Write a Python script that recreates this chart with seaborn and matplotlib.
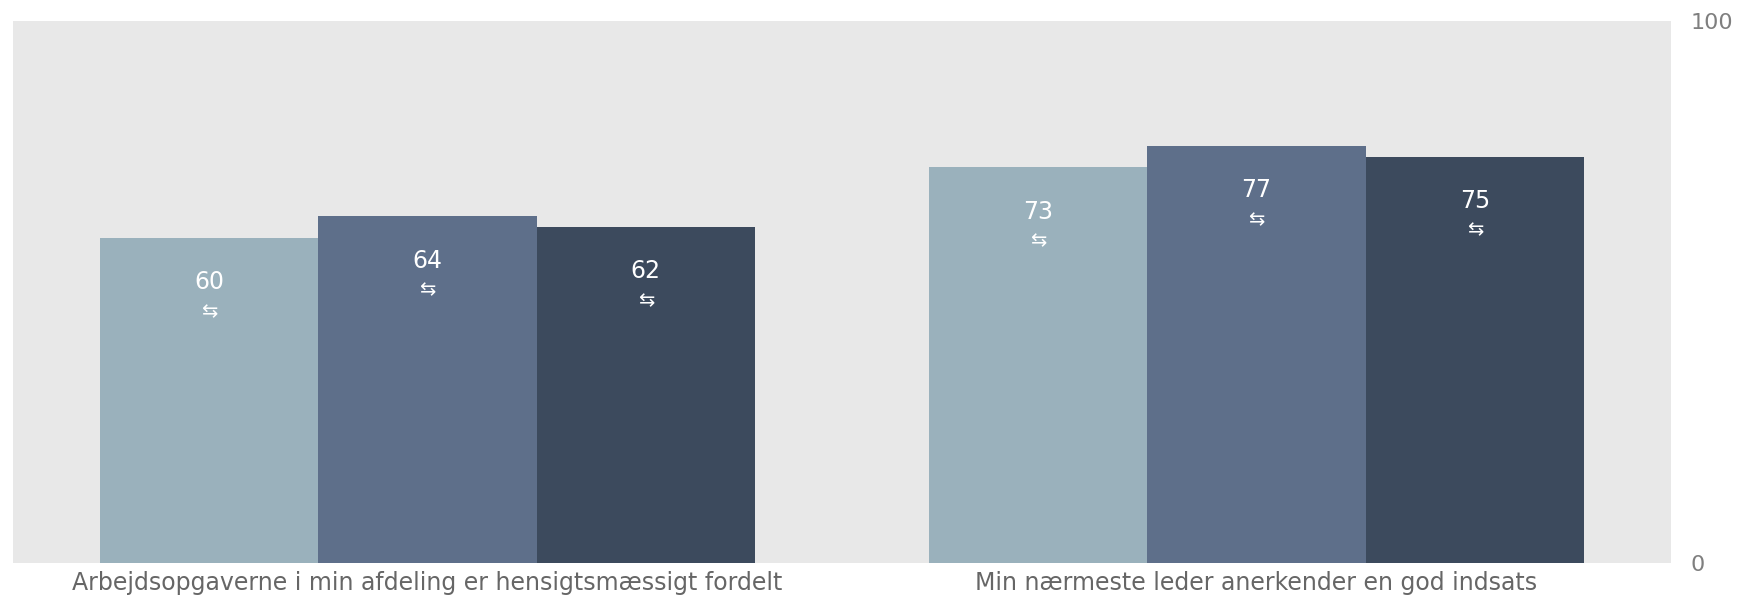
import pandas as pd
import numpy as np
import matplotlib
matplotlib.use('Agg')
import matplotlib.pyplot as plt
import seaborn as sns

# data
categories = ['Arbejdsopgaverne i min afdeling er hensigtsmæssigt fordelt',
              'Min nærmeste leder anerkender en god indsats']
series = ['A', 'B', 'C']
values_a = [60, 73]
values_b = [64, 77]
values_c = [62, 75]
colors = ['#9AB1BC', '#5E6F8A', '#3C4A5D']

sns.set_theme(style='white')
plt.rcParams['font.family'] = ['DejaVu Sans']

rows = []
for s, vals in zip(series, [values_a, values_b, values_c]):
    for c, v in zip(categories, vals):
        rows.append({'kategori': c, 'serie': s, 'score': v})
df = pd.DataFrame(rows)

fig = plt.figure(figsize=(17.47, 6), dpi=100)
ax = fig.add_axes([13/1747, 37/600, 1658/1747, 542/600])
ax.set_facecolor('#E8E8E8')

sns.barplot(data=df, x='kategori', y='score', hue='serie', order=categories,
            hue_order=series, palette=colors, width=0.79, saturation=1,
            linewidth=0, legend=False, ax=ax)

ax.set_xlim(-0.5, 1.5)
ax.set_ylim(0, 100)

# tal + pil i toppen af hver soejle
for cont in ax.containers:
    for bar in cont:
        h = bar.get_height()
        xc = bar.get_x() + bar.get_width() / 2
        ax.annotate(f'{h:.0f}', (xc, h), xytext=(0, -32), textcoords='offset points',
                    ha='center', va='center', color='white', fontsize=17)
        ax.annotate('\u21c6', (xc, h), xytext=(0, -53), textcoords='offset points',
                    ha='center', va='center', color='white', fontsize=14)

for sp in ax.spines.values():
    sp.set_visible(False)

ax.yaxis.tick_right()
ax.set_yticks([0, 100])
ax.set_yticklabels(['0', '100'])
ax.tick_params(axis='y', length=0, pad=14, labelsize=16, labelcolor='#7F7F7F')
ax.tick_params(axis='x', length=0, pad=6, labelsize=17, labelcolor='#666666')
ax.set_xlabel('')
ax.set_ylabel('')

fig.savefig('out.png', dpi=100)
